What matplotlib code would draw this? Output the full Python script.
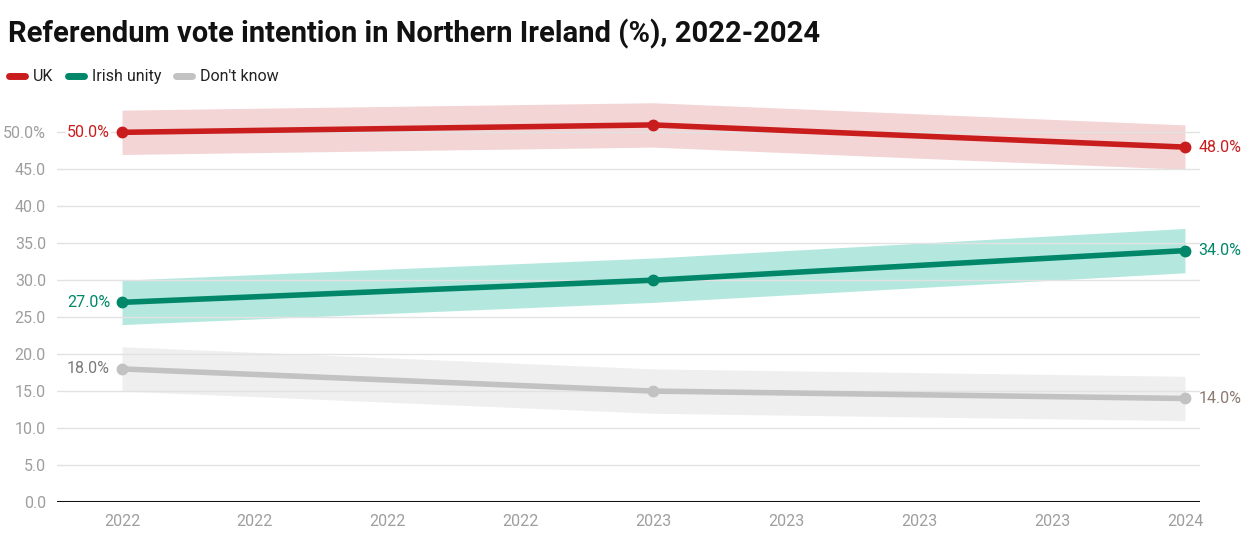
import matplotlib.pyplot as plt
import numpy as np

plt.rcParams['font.family'] = ['Roboto', 'DejaVu Sans']

# data: three polls, drawn on a 9-tick time axis
x_pos = [0, 4, 8]
tick_labels = ["2022", "2022", "2022", "2022", "2023", "2023", "2023", "2023", "2024"]
series = ["UK", "Irish unity", "Don't know"]
uk = [50, 51, 48]
irish = [27, 30, 34]
dont_know = [18, 15, 14]
margin = 3  # +/- band

colors = ["#c91d1d", "#00876a", "#c2c2c2"]
band_colors = ["#f4d5d5", "#b4e8df", "#efefef"]
label_colors = ["#c91d1d", "#00876a", "#7a7a7a"]
right_label_colors = ["#c91d1d", "#00876a", "#8a7b72"]

fig = plt.figure(figsize=(12.56, 5.46), dpi=100)
ax = fig.add_axes([0.0454, 0.0806, 0.91, 0.738])

for i, vals in enumerate([uk, irish, dont_know]):
    v = np.array(vals)
    ax.fill_between(x_pos, v - margin, v + margin, color=band_colors[i], lw=0, zorder=1)
    ax.plot(x_pos, v, color=colors[i], lw=4, marker="o", ms=7.5, zorder=3,
            solid_capstyle="round", label=series[i])
    ax.text(x_pos[0] - 0.09, v[0], f"{v[0]:.1f}%", ha="right", va="center",
            color=label_colors[i], fontsize=11.5, zorder=4,
            bbox=dict(facecolor="white", edgecolor="none", pad=1))
    ax.text(x_pos[-1] + 0.1, v[-1], f"{v[-1]:.1f}%", ha="left", va="center",
            color=right_label_colors[i], fontsize=11.5, zorder=4)

yticks = np.arange(0, 51, 5)
for y in yticks[1:]:
    ax.axhline(y, color="#e2e2e2", lw=1, zorder=2)
ax.axhline(0, color="#111111", lw=2.2, zorder=2)

ax.set_xlim(-0.489, 8.113)
ax.set_ylim(0, 54.5)
ax.set_xticks(range(9))
ax.set_xticklabels(tick_labels)
ax.set_yticks(yticks)
ax.set_yticklabels([f"{y:.1f}%" if y == 50 else f"{y:.1f}" for y in yticks])
ax.tick_params(length=0, labelsize=11.5, labelcolor="#9e9e9e")
ax.tick_params(axis="x", pad=9)
ax.tick_params(axis="y", pad=8)
for s in ax.spines.values():
    s.set_visible(False)

fig.text(0.006, 0.938, "Referendum vote intention in Northern Ireland (%), 2022-2024",
         fontsize=21, fontweight="bold", color="#111111", va="center")

handles = [plt.Line2D([], [], color=c, lw=5, solid_capstyle="round") for c in colors]
fig.legend(handles, series, loc="center left", bbox_to_anchor=(-0.004, 0.859),
           ncol=3, frameon=False, handlelength=1.0, handletextpad=0.5,
           columnspacing=0.9, fontsize=11.5, labelcolor="#222222")

fig.savefig("out.png", dpi=100)
